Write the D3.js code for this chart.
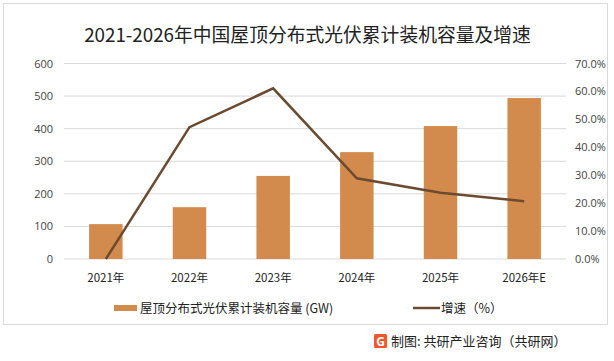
<!DOCTYPE html>
<html>
<head>
<meta charset="utf-8">
<script src="https://cdn.jsdelivr.net/npm/d3@7"></script>
<style>
  body { margin: 0; background: #fff; }
  svg text { font-family: "Open Sans", "Noto Sans CJK SC", sans-serif; }
</style>
</head>
<body>
<div id="chart"></div>
<script>
// 数据
const years = ["2021年", "2022年", "2023年", "2024年", "2025年", "2026年E"];
const capacity = [107, 159, 255, 328, 408, 494];      // GW
const growth = [0.0, 47.2, 61.1, 28.9, 23.7, 20.7];    // %
const leftTicks = [0, 100, 200, 300, 400, 500, 600];
const rightTicks = [0, 10, 20, 30, 40, 50, 60, 70];

const W = 614, H = 361;
const margin = { top: 63.5, right: 48, bottom: 102, left: 64 };
const width = W - margin.left - margin.right;
const height = H - margin.top - margin.bottom;

const svg = d3.select("#chart").append("svg")
    .attr("width", W).attr("height", H);

// 外框
svg.append("rect")
    .attr("x", 3.5).attr("y", 3.5)
    .attr("width", 604).attr("height", 321)
    .attr("fill", "none").attr("stroke", "#d9d9d9");

// 标题
svg.append("text")
    .attr("x", 307.5).attr("y", 42)
    .attr("text-anchor", "middle")
    .style("font-family", "'Noto Sans CJK SC', sans-serif")
    .style("font-size", "18.8px")
    .attr("fill", "#222")
    .text("2021-2026年中国屋顶分布式光伏累计装机容量及增速");

const g = svg.append("g").attr("transform", `translate(${margin.left},${margin.top})`);

const x = d3.scaleBand().domain(years).range([0, width]).paddingInner(0.6).paddingOuter(0.3);
const y1 = d3.scaleLinear().domain([0, 600]).range([height, 0]);
const y2 = d3.scaleLinear().domain([0, 70]).range([height, 0]);

// 网格线
g.selectAll(".grid").data(leftTicks).join("line")
    .attr("x1", 0).attr("x2", width)
    .attr("y1", d => y1(d)).attr("y2", d => y1(d))
    .attr("stroke", "#d9d9d9").attr("stroke-width", 1);

// 左轴
const yAxisL = g.append("g").call(d3.axisLeft(y1).tickValues(leftTicks).tickSize(0).tickPadding(11));
yAxisL.select(".domain").remove();
yAxisL.selectAll("text").style("font-size", "11px").attr("fill", "#444");

// 右轴
const yAxisR = g.append("g").attr("transform", `translate(${width},0)`)
    .call(d3.axisRight(y2).tickValues(rightTicks).tickSize(0).tickPadding(9).tickFormat(d => d.toFixed(1) + "%"));
yAxisR.select(".domain").remove();
yAxisR.selectAll("text").style("font-size", "11px").attr("fill", "#444");

// X轴
const xAxis = g.append("g").attr("transform", `translate(0,${height})`)
    .call(d3.axisBottom(x).tickSize(0).tickPadding(15));
xAxis.select(".domain").remove();
xAxis.selectAll("text").style("font-size", "11.5px").attr("fill", "#222")
    .style("font-family", "'Noto Sans CJK SC', sans-serif");

// 柱子
g.selectAll(".bar").data(years).join("rect")
    .attr("x", d => x(d))
    .attr("y", (d, i) => y1(capacity[i]))
    .attr("width", x.bandwidth())
    .attr("height", (d, i) => height - y1(capacity[i]))
    .attr("fill", "#d38b4d");

// 增速折线
g.append("path")
    .datum(growth)
    .attr("fill", "none")
    .attr("stroke", "#6b4a2f")
    .attr("stroke-width", 2.5)
    .attr("d", d3.line()
        .x((d, i) => x(years[i]) + x.bandwidth() / 2)
        .y(d => y2(d)));

// 图例
const legY = 308;
svg.append("rect").attr("x", 114).attr("y", legY - 3).attr("width", 23).attr("height", 6).attr("fill", "#d38b4d");
svg.append("text").attr("x", 140).attr("y", legY + 4.5)
    .style("font-family", "'Noto Sans CJK SC', sans-serif").style("font-size", "12.5px").attr("fill", "#222")
    .text("屋顶分布式光伏累计装机容量 (GW)");
svg.append("line").attr("x1", 413).attr("x2", 440).attr("y1", legY).attr("y2", legY)
    .attr("stroke", "#6b4a2f").attr("stroke-width", 2.5);
svg.append("text").attr("x", 441).attr("y", legY + 4.5)
    .style("font-family", "'Noto Sans CJK SC', sans-serif").style("font-size", "12.5px").attr("fill", "#222")
    .text("增速（%）");

// 来源
const logo = svg.append("g").attr("transform", "translate(374,334)");
logo.append("rect").attr("width", 13).attr("height", 14).attr("rx", 1.5).attr("fill", "#f0562a");
logo.append("text").attr("x", 6.5).attr("y", 11.5).attr("text-anchor", "middle")
    .style("font-size", "12px").style("font-weight", "bold").attr("fill", "#fff").text("G");
svg.append("text").attr("x", 391).attr("y", 346)
    .style("font-family", "'Noto Sans CJK SC', sans-serif").style("font-size", "13px").attr("fill", "#222")
    .text("制图: 共研产业咨询（共研网）");
</script>
</body>
</html>
